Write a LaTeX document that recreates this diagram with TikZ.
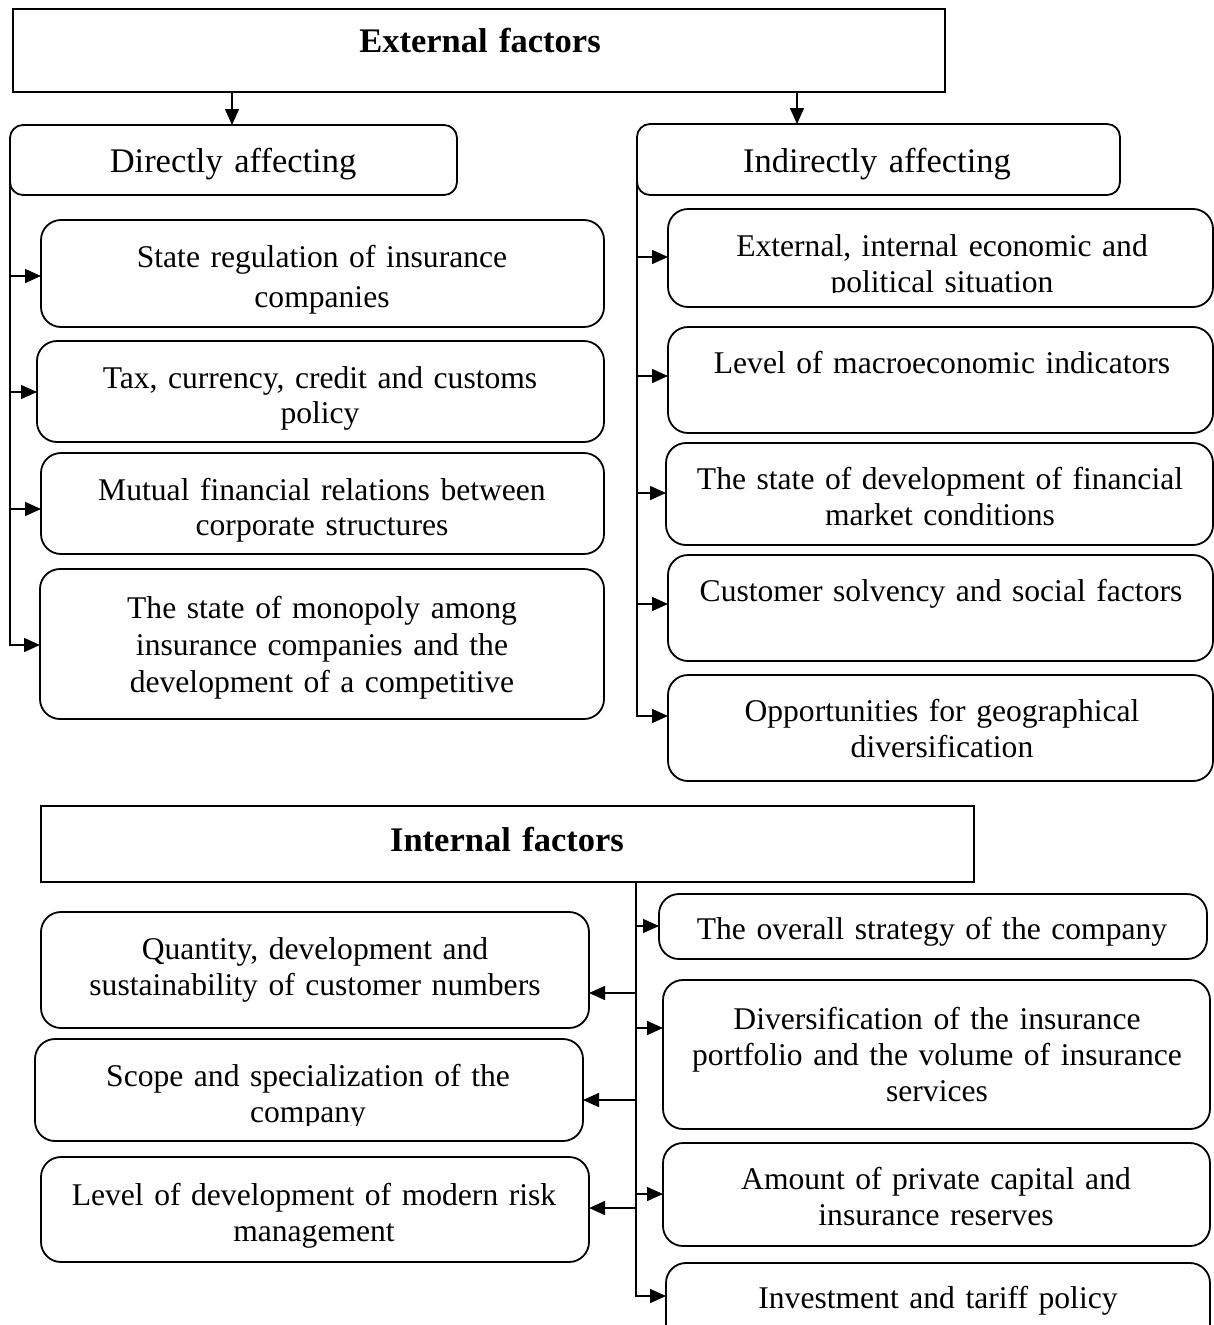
\documentclass[tikz,border=0pt]{standalone}
\usepackage{fontspec}
\setmainfont[WordSpace=0.85]{Liberation Serif}
\usetikzlibrary{arrows.meta}
\newcommand\mkbox[6]{\node[#6, minimum width={#4pt-#2pt}, minimum height={#5pt-#3pt}] (#1) at ({(#2+#4)/2},{(#3+#5)/2}) {};}
\tikzset{
  rbox/.style={draw, line width=1.8pt, rounded corners=20pt, inner sep=0pt, outer sep=0pt, rectangle},
  hbox/.style={rbox, rounded corners=13pt},
  sbox/.style={draw, line width=2pt, rectangle, inner sep=0pt, outer sep=0pt},
  txt/.style={font=\fontsize{31.6}{36}\selectfont, text width=560pt, align=center, inner sep=0pt, anchor=base},
  htxt/.style={txt, font=\fontsize{34.5}{40}\selectfont},
  btxt/.style={txt, font=\fontsize{34.5}{40}\selectfont\bfseries},
  conn/.style={line width=1.5pt, -{Triangle[length=16pt,width=14pt]}},
}
\begin{document}
\begin{tikzpicture}[x=1pt, y=-1pt]
\useasboundingbox (0,0) rectangle (1214,1325);
\clip (0,0) rectangle (1214,1325);

% ---------- External factors ----------
\mkbox{ext}{13}{9}{945}{92}{sbox}
\node[btxt] (extT) at (480,52) {External factors};

\mkbox{dir}{10}{125}{457}{195}{hbox}
\node[htxt] (dirT) at (233,172) {Directly affecting};
\mkbox{ind}{637}{124}{1120}{195}{hbox}
\node[htxt] (indT) at (877,172) {Indirectly affecting};

\draw[conn] (ext.south -| 232,0) -- (dir.north -| 232,0);
\draw[conn] (ext.south -| 797,0) -- (ind.north -| 797,0);

% left column
\mkbox{L1}{41}{220}{604}{327}{rbox}
\node[txt, font=\fontsize{31.6}{40}\selectfont] (L1T) at (322,267) {State regulation of insurance\\companies};
\mkbox{L2}{37}{341}{604}{442}{rbox}
\node[txt, font=\fontsize{31.6}{35}\selectfont] (L2T) at (320,388) {Tax, currency, credit and customs\\policy};
\mkbox{L3}{41}{453}{604}{554}{rbox}
\node[txt, font=\fontsize{31.6}{35}\selectfont] (L3T) at (322,500) {Mutual financial relations between\\corporate structures};
\mkbox{L4}{40}{569}{604}{719}{rbox}
\node[txt, font=\fontsize{31.6}{37}\selectfont] (L4T) at (322,618) {The state of monopoly among\\insurance companies and the\\development of a competitive};

\draw[conn] (dir.west) |- (L4.west |- 0,645);
\draw[conn] (dir.west |- 0,276) -- (L1.west |- 0,276);
\draw[conn] (dir.west |- 0,392) -- (L2.west |- 0,392);
\draw[conn] (dir.west |- 0,509) -- (L3.west |- 0,509);

% right column
\mkbox{R1}{668}{209}{1213}{307}{rbox}
\begin{scope}
  \clip (660,200) rectangle (1214,292);
  \node[txt] (R1T) at (942,256) {External, internal economic and\\political situation};
\end{scope}
\mkbox{R2}{668}{327}{1213}{433}{rbox}
\node[txt] (R2T) at (942,373) {Level of macroeconomic indicators};
\mkbox{R3}{666}{443}{1213}{545}{rbox}
\node[txt] (R3T) at (940,489) {The state of development of financial\\market conditions};
\mkbox{R4}{668}{555}{1213}{661}{rbox}
\node[txt] (R4T) at (941,601) {Customer solvency and social factors};
\mkbox{R5}{668}{675}{1213}{781}{rbox}
\node[txt] (R5T) at (942,721) {Opportunities for geographical\\diversification};

\draw[conn] (ind.west) |- (R5.west |- 0,716);
\draw[conn] (ind.west |- 0,257) -- (R1.west |- 0,257);
\draw[conn] (ind.west |- 0,376) -- (R2.west |- 0,376);
\draw[conn] (ind.west |- 0,493) -- (R3.west |- 0,493);
\draw[conn] (ind.west |- 0,604) -- (R4.west |- 0,604);

% ---------- Internal factors ----------
\mkbox{int}{41}{806}{974}{882}{sbox}
\node[btxt] (intT) at (507,851) {Internal factors};

\coordinate (sp) at (636,882);

% internal right
\mkbox{IR1}{659}{894}{1207}{959}{rbox}
\node[txt] (IR1T) at (932,939) {The overall strategy of the company};
\mkbox{IR2}{663}{980}{1210}{1129}{rbox}
\node[txt] (IR2T) at (937,1029) {Diversification of the insurance\\portfolio and the volume of insurance\\services};
\mkbox{IR3}{663}{1143}{1210}{1246}{rbox}
\node[txt] (IR3T) at (936,1189) {Amount of private capital and\\insurance reserves};
\mkbox{IR4}{666}{1263}{1210}{1345}{rbox}
\node[txt] (IR4T) at (938,1308) {Investment and tariff policy};

% internal left
\mkbox{IL1}{41}{912}{589}{1028}{rbox}
\node[txt] (IL1T) at (315,959) {Quantity, development and\\sustainability of customer numbers};
\mkbox{IL2}{35}{1039}{583}{1141}{rbox}
\begin{scope}
  \clip (30,1035) rectangle (590,1125);
  \node[txt] (IL2T) at (308,1086) {Scope and specialization of the\\company};
\end{scope}
\mkbox{IL3}{41}{1157}{589}{1262}{rbox}
\node[txt] (IL3T) at (314,1205) {Level of development of modern risk\\management};

\draw[conn] (sp) |- (IR4.west |- 0,1296);
\draw[conn] (sp |- 0,926) -- (IR1.west |- 0,926);
\draw[conn] (sp |- 0,1028) -- (IR2.west |- 0,1028);
\draw[conn] (sp |- 0,1194) -- (IR3.west |- 0,1194);
\draw[conn] (sp |- 0,993) -- (IL1.east |- 0,993);
\draw[conn] (sp |- 0,1100) -- (IL2.east |- 0,1100);
\draw[conn] (sp |- 0,1208) -- (IL3.east |- 0,1208);
\end{tikzpicture}
\end{document}
